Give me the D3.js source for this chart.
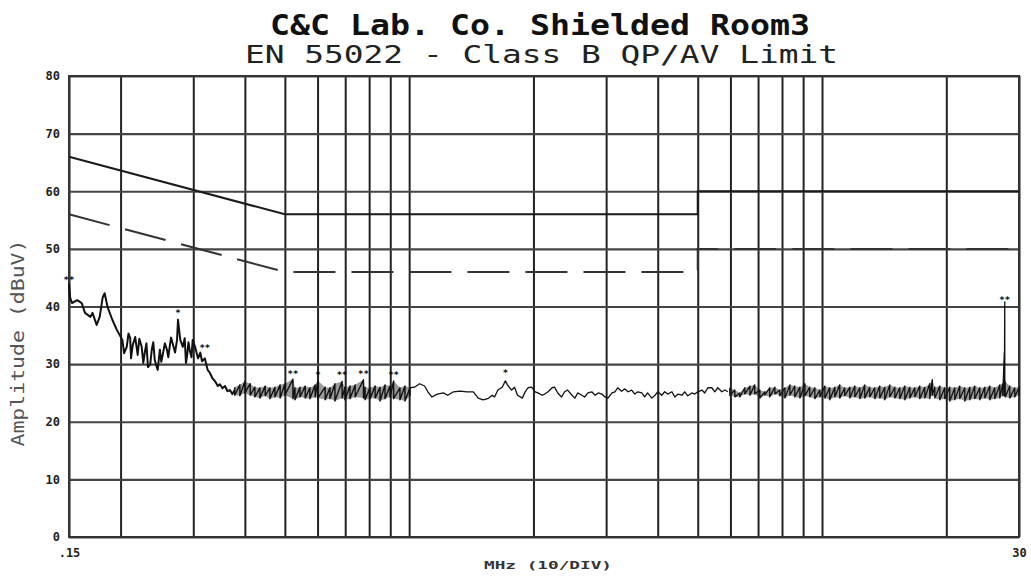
<!DOCTYPE html>
<html><head><meta charset="utf-8">
<script src="https://cdn.jsdelivr.net/npm/d3@7"></script>
<style>body{margin:0;background:#fff}svg{display:block}</style>
</head><body><svg id="c" width="1031" height="576"></svg>
<script>
// ---------- data ----------
const titleText = "C&C Lab. Co. Shielded Room3";
const subtitleText = "EN 55022 - Class B QP/AV  Limit";
const yLabelText = "Amplitude (dBuV)";
const xLabelText = "MHz (10/DIV)";

const yTicks = [0, 10, 20, 30, 40, 50, 60, 70, 80];
const gridFreqs = [0.15, 0.2, 0.3, 0.4, 0.5, 0.6, 0.7, 0.8, 0.9, 1, 2, 3, 4, 5, 6, 7, 8, 9, 10, 20, 30];
const xTickValues = [0.15, 30];
const xTickText = [".15", "30"];

// EN 55022 class B limits
const limitFreq = [0.15, 0.5, 5, 5, 30];
const qpLimit = [66, 56, 56, 60, 60];
const avLimit = [56, 46, 46, 50, 50];

// scan 0.15 - 0.38 MHz  [MHz, dBuV]
const scanA = [[0.150,44.0],[0.151,41.5],[0.1525,40.6],[0.157,41.1],[0.161,40.6],[0.164,38.9],[0.169,38.2],
 [0.171,38.9],[0.175,36.8],[0.178,38.2],[0.181,41.6],[0.183,42.3],[0.186,39.9],[0.191,37.7],[0.196,35.9],
 [0.202,34.2],[0.204,31.9],[0.207,33.0],[0.209,35.3],[0.211,34.5],[0.212,31.0],[0.214,33.3],[0.217,34.7],
 [0.220,31.6],[0.222,34.4],[0.225,33.0],[0.227,30.2],[0.229,32.1],[0.231,33.6],[0.233,29.5],[0.236,30.0],
 [0.238,32.5],[0.240,33.8],[0.242,30.7],[0.244,29.8],[0.246,29.0],[0.249,32.5],[0.251,30.4],[0.253,31.6],
 [0.256,33.6],[0.259,32.5],[0.261,31.2],[0.263,33.0],[0.265,34.6],[0.268,33.3],[0.271,32.0],[0.274,34.2],
 [0.2755,37.7],[0.279,34.2],[0.283,33.0],[0.286,34.5],[0.288,30.2],[0.290,31.6],[0.292,33.8],[0.294,32.5],
 [0.297,31.2],[0.299,34.2],[0.303,33.0],[0.308,31.0],[0.312,32.0],[0.315,30.5],[0.320,31.0],[0.325,29.0],
 [0.329,28.5],[0.334,27.5],[0.339,27.0],[0.344,26.2],[0.348,26.5],[0.353,25.8],[0.358,26.2],[0.363,25.3],
 [0.368,25.5],[0.373,24.8],[0.378,25.5]];

// scan 0.38 - 1 MHz  [MHz, max dBuV, min dBuV]
const scanB = [[0.378,26.0,24.6],[0.389,26.4,24.5],[0.400,27.0,25.0],[0.412,26.6,24.6],[0.423,26.0,24.3],
 [0.435,25.9,24.1],[0.448,26.2,24.5],[0.460,25.9,24.0],[0.473,26.0,24.3],[0.487,26.4,24.1],[0.500,26.6,24.6],
 [0.523,27.4,24.0],[0.529,25.9,23.8],[0.544,26.0,24.3],[0.560,26.2,24.1],[0.575,25.9,24.0],[0.592,26.4,24.3],
 [0.601,27.1,24.1],[0.626,26.0,23.8],[0.643,25.9,24.0],[0.661,26.6,23.6],[0.688,27.0,24.1],[0.699,26.0,23.8],
 [0.719,26.2,24.0],[0.740,26.4,24.3],[0.775,27.3,24.1],[0.782,26.0,23.8],[0.804,25.9,24.0],[0.827,26.2,24.1],
 [0.850,26.0,23.6],[0.874,26.4,24.0],[0.899,26.2,24.3],[0.917,27.1,24.0],[0.950,25.9,23.8],[0.977,26.2,23.6],[1.005,25.9,24.5]];

// scan 1 - 6 MHz  [MHz, dBuV]
const scanC = [[1.005,25.9],[1.03,26.0],[1.06,26.6],[1.09,26.2],[1.11,25.2],[1.135,24.3],[1.17,24.8],[1.21,25.0],
 [1.24,24.6],[1.28,25.2],[1.33,25.3],[1.38,25.2],[1.43,25.2],[1.47,24.1],[1.51,23.8],[1.55,24.0],[1.59,24.6],
 [1.61,24.3],[1.64,25.5],[1.68,26.0],[1.71,27.1],[1.73,26.4],[1.77,25.5],[1.80,26.0],[1.83,24.6],[1.88,24.1],
 [1.91,25.2],[1.94,25.9],[1.98,26.0],[2.02,25.2],[2.05,25.0],[2.10,24.6],[2.13,24.8],[2.17,25.2],[2.22,25.9],
 [2.25,26.0],[2.29,25.0],[2.34,24.3],[2.38,25.2],[2.42,25.5],[2.48,24.6],[2.52,24.1],[2.56,25.0],[2.62,24.6],
 [2.66,24.3],[2.71,25.0],[2.77,25.2],[2.82,24.6],[2.87,25.0],[2.93,24.8],[2.98,24.3],[3.03,24.1],[3.10,25.0],
 [3.15,25.2],[3.20,25.9],[3.27,25.3],[3.33,25.7],[3.39,25.2],[3.46,25.5],[3.52,24.8],[3.58,25.2],[3.66,25.0],
 [3.72,24.3],[3.78,25.0],[3.87,24.1],[3.94,24.6],[4.00,25.2],[4.09,24.6],[4.16,25.2],[4.23,24.8],[4.33,25.2],
 [4.40,24.3],[4.48,24.8],[4.58,24.6],[4.65,25.2],[4.73,24.5],[4.84,25.0],[4.92,24.8],[5.00,25.2],[5.12,25.5],
 [5.20,25.0],[5.29,25.9],[5.41,25.9],[5.50,25.2],[5.59,25.9],[5.72,25.2],[5.82,25.5],[5.91,25.2]];

// scan 6 - 30 MHz  [MHz, max dBuV, min dBuV]
const scanD = [[5.98,25.9,24.6],[6.15,25.5,24.3],[6.32,25.0,24.3],[6.50,25.9,24.8],[6.69,26.2,24.6],[6.87,26.4,24.8],
 [7.07,25.5,24.1],[7.27,25.2,24.6],[7.47,25.9,24.3],[7.69,26.0,24.8],[7.90,25.5,24.5],[8.13,25.9,24.1],
 [8.36,26.4,24.6],[8.59,26.2,24.3],[8.84,26.0,24.1],[9.09,26.6,24.5],[9.34,26.0,24.3],[9.61,25.9,24.0],
 [9.88,25.5,24.3],[10.16,26.2,24.1],[10.44,25.9,23.8],[10.74,26.0,24.3],[11.04,26.4,24.1],[11.35,25.9,24.5],
 [11.68,26.0,24.1],[12.01,26.2,24.3],[12.35,25.9,24.0],[12.69,26.4,24.1],[13.05,26.0,24.3],[13.42,25.9,24.0],
 [13.80,26.2,24.1],[14.19,26.0,23.8],[14.59,26.4,24.3],[15.01,26.0,24.1],[15.43,25.9,24.0],[15.87,26.2,23.8],
 [16.32,26.0,24.1],[16.78,25.9,24.3],[17.25,26.2,24.0],[17.74,26.0,24.1],[18.24,26.6,24.0],[18.50,27.3,24.6],
 [18.76,26.0,24.1],[19.29,26.2,23.8],[19.83,25.9,24.0],[20.39,26.0,23.6],[20.97,25.9,23.8],[21.56,26.2,24.0],
 [22.17,25.9,23.6],[22.80,26.0,23.8],[23.44,26.2,24.0],[24.11,25.9,23.8],[24.79,26.0,24.1],[25.49,26.2,23.8],
 [26.21,25.9,24.0],[26.95,26.4,24.1],[27.40,26.6,24.5],[27.64,32.0,24.5],[27.71,40.8,24.6],[27.78,27.0,24.3],
 [28.50,26.2,24.1],[29.30,25.9,24.3],[30.00,26.0,24.6]];

// peak markers
const markerFreq  = [0.150, 0.2755, 0.320, 0.523, 0.601, 0.688, 0.775, 0.917, 1.71, 27.71];
const markerLevel = [44.6, 38.9, 32.8, 28.3, 28.1, 28.1, 28.3, 28.1, 28.5, 41.1];
const markerText  = ["**", "*", "**", "**", "*", "**", "**", "**", "*", "**"];

// ---------- drawing ----------
const svg = d3.select("#c");
const L = 69, R = 1019, T = 76, B = 537;
const x = d3.scaleLog().domain([0.15, 30]).range([L, R]);
const y = d3.scaleLinear().domain([0, 80]).range([B, T]);
const mono = "'DejaVu Sans Mono', 'Liberation Mono', monospace";

// title
svg.append("text").attr("x", 270).attr("y", 35).attr("textLength", 540).attr("lengthAdjust", "spacingAndGlyphs")
  .attr("font-family", mono).attr("font-weight", "bold").attr("font-size", 29).attr("fill", "#111").text(titleText);
svg.append("text").attr("x", 245).attr("y", 63).attr("textLength", 593).attr("lengthAdjust", "spacingAndGlyphs")
  .attr("font-family", mono).attr("font-size", 24).attr("fill", "#222").text(subtitleText);

// grid
const gv = svg.append("g").attr("transform", `translate(0,${B})`)
  .call(d3.axisBottom(x).tickValues(gridFreqs).tickSize(-(B - T)).tickFormat(""));
gv.select(".domain").remove();
gv.selectAll("line").attr("stroke", "#222").attr("stroke-width", 2);

const gh = svg.append("g").attr("transform", `translate(${L},0)`)
  .call(d3.axisLeft(y).tickValues(yTicks).tickSize(-(R - L)).tickFormat(""));
gh.select(".domain").remove();
gh.selectAll("line").attr("stroke", "#444").attr("stroke-width", 2.2);

svg.append("rect").attr("x", L).attr("y", T).attr("width", R - L).attr("height", B - T)
  .attr("fill", "none").attr("stroke", "#333").attr("stroke-width", 2);

// y tick labels
const ya = svg.append("g").attr("transform", `translate(${L},0)`)
  .call(d3.axisLeft(y).tickValues(yTicks).tickSize(0).tickPadding(9));
ya.select(".domain").remove();
ya.selectAll("text").attr("font-family", mono).attr("font-weight", "bold").attr("font-size", 12).attr("fill", "#222");

// x tick labels
const xa = svg.append("g").attr("transform", `translate(0,${B})`)
  .call(d3.axisBottom(x).tickValues(xTickValues).tickFormat((d, i) => xTickText[i]).tickSize(0).tickPadding(11));
xa.select(".domain").remove();
xa.selectAll("text").attr("font-family", mono).attr("font-weight", "bold").attr("font-size", 12).attr("fill", "#222");

// axis titles
svg.append("text").attr("x", 548).attr("y", 569).attr("text-anchor", "middle").attr("textLength", 128)
  .attr("lengthAdjust", "spacingAndGlyphs").attr("font-family", mono).attr("font-weight", "bold")
  .attr("font-size", 10).attr("fill", "#333").text(xLabelText);
svg.append("text").attr("transform", "translate(24,343) rotate(-90)").attr("text-anchor", "middle")
  .attr("textLength", 207).attr("lengthAdjust", "spacingAndGlyphs").attr("font-family", mono)
  .attr("font-size", 18).attr("fill", "#555").text(yLabelText);

// limits
const line = d3.line().x(d => x(d[0])).y(d => y(d[1]));
const qp = limitFreq.map((f, i) => [f, qpLimit[i]]);
const av = limitFreq.map((f, i) => [f, avLimit[i]]);
svg.append("path").attr("d", line(qp)).attr("fill", "none").attr("stroke", "#1a1a1a").attr("stroke-width", 2);
svg.append("path").attr("d", line(av)).attr("fill", "none").attr("stroke", "#333").attr("stroke-width", 2)
  .attr("stroke-dasharray", "42,16");

// scan trace
const band = arr => arr.flatMap(d => [[d[0], d[1]], [d[0], d[2]]]);
const area = d3.area().x(d => x(d[0])).y0(d => y(d[2])).y1(d => y(d[1]));
const tr = svg.append("g").attr("fill", "none").attr("stroke", "#111").attr("stroke-linejoin", "round");
tr.append("path").attr("d", line(scanA)).attr("stroke-width", 2);
tr.append("path").attr("d", area(scanB)).attr("fill", "#222").attr("fill-opacity", 0.45).attr("stroke", "none");
tr.append("path").attr("d", line(band(scanB))).attr("stroke-width", 1.4);
tr.append("path").attr("d", line(scanC)).attr("stroke-width", 1.3);
tr.append("path").attr("d", area(scanD)).attr("fill", "#222").attr("fill-opacity", 0.45).attr("stroke", "none");
tr.append("path").attr("d", line(band(scanD))).attr("stroke-width", 1.3);

// markers
svg.append("g").selectAll("text").data(markerFreq).join("text")
  .attr("x", d => x(d)).attr("y", (d, i) => y(markerLevel[i]) + 3)
  .attr("text-anchor", "middle").attr("font-family", mono).attr("font-weight", "bold")
  .attr("font-size", 9).attr("fill", "#111").text((d, i) => markerText[i]);
</script></body></html>
